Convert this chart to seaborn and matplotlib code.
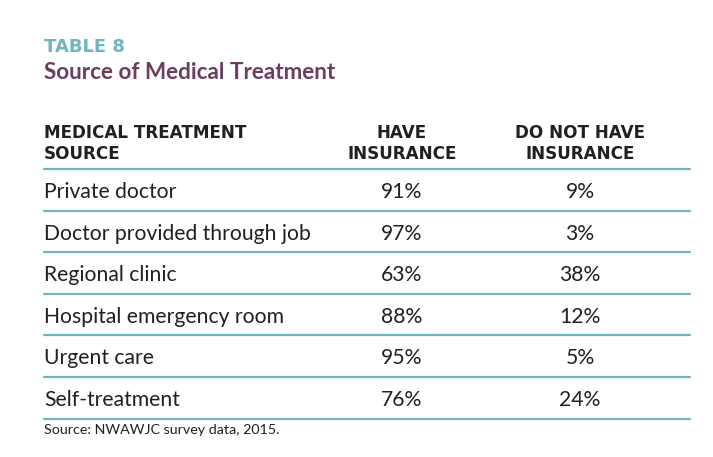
#!/usr/bin/env python3

import pandas as pd
import seaborn as sns
from matplotlib import pyplot as plt

# table contents
table_label = 'TABLE 8'
title = 'Source of Medical Treatment'
col_headers = [['MEDICAL TREATMENT', 'SOURCE'],
               ['HAVE', 'INSURANCE'],
               ['DO NOT HAVE', 'INSURANCE']]
sources = ['Private doctor', 'Doctor provided through job', 'Regional clinic',
           'Hospital emergency room', 'Urgent care', 'Self-treatment']
have_ins = [91, 97, 63, 88, 95, 76]
no_ins = [9, 3, 38, 12, 5, 24]
note = 'Source: NWAWJC survey data, 2015.'

teal = '#72b5ba'
label_teal = '#6fb6be'
purple = '#6b3d5e'
ink = '#231f20'

if __name__ == '__main__':
    sns.set_theme(style='white')
    plt.rcParams['font.family'] = ['Lato', 'DejaVu Sans']

    f = plt.figure(figsize=(7.13, 4.57), dpi=100)
    ax = f.add_axes([0, 0, 1, 1])

    x_left, x_right = 44, 690
    col_x = [44, 402, 580]
    head_rule = 169
    row_h = 41.6
    caps = ['DejaVu Sans']

    ax.text(x_left, 52, table_label, color=label_teal, fontsize=13,
            fontweight='bold', family=caps, va='baseline')
    ax.text(x_left, 79, title, color=purple, fontsize=16.2,
            fontweight='bold', va='baseline')

    for i, lines in enumerate(col_headers):
        for j, line in enumerate(lines):
            ax.text(col_x[i], 138 + j * 21, line, color=ink, fontsize=12.1,
                    fontweight='bold', family=caps, va='baseline',
                    ha='left' if i == 0 else 'center')

    df = pd.DataFrame({'source': sources, 'have': have_ins, 'no': no_ins})
    df['top'] = head_rule + df.index * row_h

    # rules under header and each row
    rules = pd.DataFrame({
        'x': [x_left, x_right] * (len(df) + 1),
        'y': [head_rule + k * row_h for k in range(len(df) + 1) for _ in range(2)],
        'k': [k for k in range(len(df) + 1) for _ in range(2)],
    })
    sns.lineplot(data=rules, x='x', y='y', units='k', estimator=None,
                 color=teal, lw=1.6, ax=ax, legend=False)
    ax.set_xlim(0, 713)
    ax.set_ylim(457, 0)
    ax.axis('off')

    for _, r in df.iterrows():
        yb = r['top'] + 29
        ax.text(col_x[0], yb, r['source'], color=ink, fontsize=15.2,
                va='baseline')
        ax.text(col_x[1], yb, f"{r['have']}%", color=ink, fontsize=15.2,
                va='baseline', ha='center')
        ax.text(col_x[2], yb, f"{r['no']}%", color=ink, fontsize=15.2,
                va='baseline', ha='center')

    ax.text(x_left, 434, note, color=ink, fontsize=10.3, va='baseline')

    f.savefig('out.png', dpi=100)
